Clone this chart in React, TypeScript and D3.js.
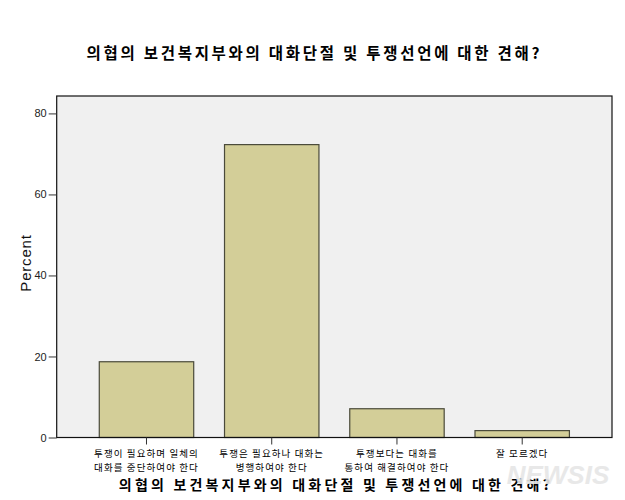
import React, { useRef, useEffect } from 'react';
import * as d3 from 'd3';

// chart data
const chartTitle = '의협의 보건복지부와의 대화단절 및 투쟁선언에 대한 견해?';
const categories = ['a', 'b', 'c', 'd'];
const categoryLabels: string[][] = [
  ['투쟁이 필요하며 일체의', '대화를 중단하여야 한다'],
  ['투쟁은 필요하나 대화는', '병행하여야 한다'],
  ['투쟁보다는 대화를', '통하여 해결하여야 한다'],
  ['잘 모르겠다'],
];
const percentValues = [18.7, 72.3, 7.1, 1.7];
const yTicks = [0, 20, 40, 60, 80];

const KR_FONT = '"Noto Sans CJK KR", "Noto Sans", sans-serif';
const NUM_FONT = '"Liberation Sans", Arial, sans-serif';

const App: React.FC = () => {
  const svgRef = useRef<SVGSVGElement | null>(null);

  useEffect(() => {
    const svg = d3.select(svgRef.current);
    svg.selectAll('*').remove();

    const width = 625;
    const height = 500;
    const plot = { left: 56.7, right: 612, top: 96, bottom: 437.5 };

    svg.append('rect').attr('width', width).attr('height', height).attr('fill', '#fff');

    const xScale = d3.scaleBand<string>()
      .domain(categories)
      .range([plot.left, plot.right])
      .paddingInner(0.246)
      .paddingOuter(0.34);

    const yScale = d3.scaleLinear()
      .domain([0, 84.3])
      .range([plot.bottom, plot.top]);

    // plot background
    svg.append('rect')
      .attr('x', plot.left)
      .attr('y', plot.top)
      .attr('width', plot.right - plot.left)
      .attr('height', plot.bottom - plot.top)
      .attr('fill', '#f0f0f0');

    // bars
    svg.append('g')
      .selectAll('rect')
      .data(percentValues)
      .enter()
      .append('rect')
      .attr('x', (_, i) => xScale(categories[i]) || 0)
      .attr('y', d => yScale(d))
      .attr('width', xScale.bandwidth())
      .attr('height', d => yScale(0) - yScale(d))
      .attr('fill', '#d3ce98')
      .attr('stroke', '#4a4a3a')
      .attr('stroke-width', 1.2);

    // frame
    svg.append('rect')
      .attr('x', plot.left)
      .attr('y', plot.top)
      .attr('width', plot.right - plot.left)
      .attr('height', plot.bottom - plot.top)
      .attr('fill', 'none')
      .attr('stroke', '#111')
      .attr('stroke-width', 1.2);

    // y axis
    const yAxis = svg.append('g')
      .attr('transform', `translate(${plot.left},0)`)
      .call(d3.axisLeft(yScale).tickValues(yTicks).tickSize(8).tickPadding(2));
    yAxis.select('.domain').remove();
    yAxis.selectAll('line').attr('stroke', '#333');
    yAxis.selectAll('text')
      .attr('font-family', NUM_FONT)
      .attr('font-size', 11)
      .attr('fill', '#222');

    // x axis
    const xAxis = svg.append('g')
      .attr('transform', `translate(0,${plot.bottom})`)
      .call(d3.axisBottom(xScale).tickSize(7).tickFormat(() => ''));
    xAxis.select('.domain').remove();
    xAxis.selectAll('line').attr('stroke', '#333');

    // category labels, one text per category with a tspan per line
    const labels = svg.append('g');
    categories.forEach((c, i) => {
      const cx = (xScale(c) || 0) + xScale.bandwidth() / 2;
      const t = labels.append('text')
        .attr('y', 456.5)
        .attr('text-anchor', 'middle')
        .attr('font-family', KR_FONT)
        .attr('font-size', 9.5)
        .attr('letter-spacing', 1.1)
        .attr('fill', '#000');
      categoryLabels[i].forEach((line, j) => {
        t.append('tspan')
          .attr('x', cx)
          .attr('dy', j === 0 ? 0 : 14)
          .text(line);
      });
    });

    // title
    svg.append('text')
      .attr('x', 313)
      .attr('y', 59)
      .attr('text-anchor', 'middle')
      .attr('font-family', KR_FONT)
      .attr('font-size', 15.5)
      .attr('font-weight', 'bold')
      .attr('textLength', 453)
      .attr('lengthAdjust', 'spacing')
      .attr('fill', '#000')
      .text(chartTitle);

    // x axis title
    svg.append('text')
      .attr('x', (plot.left + plot.right) / 2)
      .attr('y', 490)
      .attr('text-anchor', 'middle')
      .attr('font-family', KR_FONT)
      .attr('font-size', 14)
      .attr('font-weight', 'bold')
      .attr('textLength', 431)
      .attr('lengthAdjust', 'spacing')
      .attr('fill', '#000')
      .text(chartTitle);

    // y axis title
    svg.append('text')
      .attr('transform', `translate(31,263) rotate(-90)`)
      .attr('text-anchor', 'middle')
      .attr('font-family', NUM_FONT)
      .attr('font-size', 15)
      .attr('letter-spacing', 0.8)
      .attr('fill', '#111')
      .text('Percent');

    // agency watermark
    svg.append('text')
      .attr('x', 558)
      .attr('y', 484)
      .attr('text-anchor', 'middle')
      .attr('font-family', NUM_FONT)
      .attr('font-size', 26)
      .attr('font-weight', 'bold')
      .attr('font-style', 'italic')
      .attr('fill', '#e6e6e6')
      .attr('opacity', 0.9)
      .text('NEWSIS');
  }, []);

  return (
    <svg
      ref={svgRef}
      width={625}
      height={500}
      style={{ position: 'absolute', left: 0, top: 0, display: 'block' }}
    ></svg>
  );
};

export default App;
